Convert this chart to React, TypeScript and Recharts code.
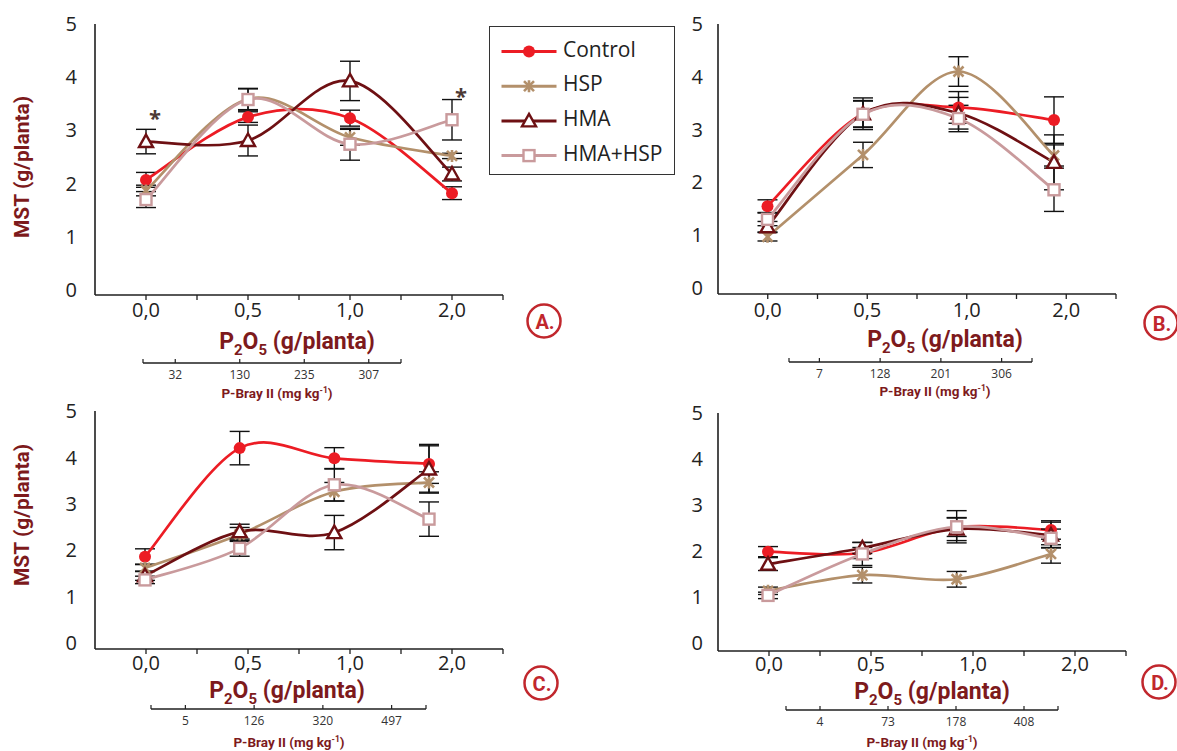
import { ErrorBar, LabelList, Legend, Line, LineChart, XAxis, YAxis } from 'recharts'

const CANVAS_W = 1177
const CANVAS_H = 751
const Y_AXIS_W = 40
const X_AXIS_H = 30

const DOSES = ['0,0', '0,5', '1,0', '2,0']
const Y_TICKS = [0, 1, 2, 3, 4, 5]

// A.
const A_CONTROL = [2.07, 3.25, 3.23, 1.82]
const A_HSP = [1.87, 3.59, 2.87, 2.52]
const A_HMA = [2.79, 2.81, 3.93, 2.18]
const A_HMA_HSP = [1.7, 3.58, 2.74, 3.2]
const A_ERR_CONTROL = [0.14, 0.1, 0.15, 0.12]
const A_ERR_HSP = [0.1, 0.2, 0.15, 0.05]
const A_ERR_HMA = [0.23, 0.29, 0.37, 0.13]
const A_ERR_HMA_HSP = [0.15, 0.2, 0.3, 0.38]
const A_SIG_HMA = ['*', '', '', '']
const A_SIG_HMA_HSP = ['', '', '', '*']
const A_BRAY = ['32', '130', '235', '307']

// B.
const B_CONTROL = [1.55, 3.3, 3.42, 3.18]
const B_HSP = [0.97, 2.52, 4.1, 2.51]
const B_HMA = [1.16, 3.3, 3.31, 2.38]
const B_HMA_HSP = [1.3, 3.29, 3.21, 1.86]
const B_ERR_CONTROL = [0.12, 0.25, 0.3, 0.44]
const B_ERR_HSP = [0.08, 0.24, 0.28, 0.2]
const B_ERR_HMA = [0.1, 0.3, 0.3, 0.52]
const B_ERR_HMA_HSP = [0.12, 0.25, 0.25, 0.41]
const B_BRAY = ['7', '128', '201', '306']

// C.
const C_CONTROL = [1.86, 4.2, 3.98, 3.86]
const C_HSP = [1.62, 2.34, 3.26, 3.46]
const C_HMA = [1.45, 2.4, 2.38, 3.75]
const C_HMA_HSP = [1.36, 2.04, 3.41, 2.67]
const C_ERR_CONTROL = [0.17, 0.36, 0.23, 0.42]
const C_ERR_HSP = [0.08, 0.15, 0.2, 0.23]
const C_ERR_HMA = [0.1, 0.16, 0.37, 0.5]
const C_ERR_HMA_HSP = [0.08, 0.17, 0.35, 0.37]
const C_BRAY = ['5', '126', '320', '497']

// D.
const D_CONTROL = [1.99, 1.96, 2.52, 2.46]
const D_HSP = [1.14, 1.48, 1.39, 1.94]
const D_HMA = [1.72, 2.07, 2.48, 2.35]
const D_HMA_HSP = [1.04, 1.94, 2.53, 2.28]
const D_ERR_CONTROL = [0.11, 0.12, 0.2, 0.2]
const D_ERR_HSP = [0.08, 0.17, 0.17, 0.2]
const D_ERR_HMA = [0.14, 0.12, 0.25, 0.28]
const D_ERR_HMA_HSP = [0.07, 0.25, 0.35, 0.2]
const D_BRAY = ['4', '73', '178', '408']

const SERIES = [
  { key: 'control', name: 'Control', color: '#ec1c24', marker: 'circle' },
  { key: 'hsp', name: 'HSP', color: '#b3906b', marker: 'star' },
  { key: 'hma', name: 'HMA', color: '#6e1013', marker: 'triangle' },
  { key: 'hmaHsp', name: 'HMA+HSP', color: '#c99a9c', marker: 'square' },
]

const TITLE_RED = '#7d1a1c'
const LETTER_RED = '#c1272d'
const INK = '#222'
const AXIS_LINE = { stroke: '#1f1f1f', strokeWidth: 1.6 }

function buildRows(means: number[][], errs: number[][], sigs: string[][] = []) {
  return DOSES.map((dose, i) => {
    const row: Record<string, string | number> = { dose }
    SERIES.forEach((s, j) => {
      row[s.key] = means[j][i]
      row[`${s.key}Err`] = errs[j][i]
      if (sigs[j]) row[`${s.key}Sig`] = sigs[j][i]
    })
    return row
  })
}

const PANELS = [
  {
    id: 'A',
    rows: buildRows(
      [A_CONTROL, A_HSP, A_HMA, A_HMA_HSP],
      [A_ERR_CONTROL, A_ERR_HSP, A_ERR_HMA, A_ERR_HMA_HSP],
      [[], [], A_SIG_HMA, A_SIG_HMA_HSP],
    ),
    plot: { left: 95, right: 503, top: 24, bottom: 295 },
    floor: -0.094,
    pointPad: [51, 51],
    labelGap: 18,
    tickDrop: 22,
    legend: true,
  },
  {
    id: 'B',
    rows: buildRows(
      [B_CONTROL, B_HSP, B_HMA, B_HMA_HSP],
      [B_ERR_CONTROL, B_ERR_HSP, B_ERR_HMA, B_ERR_HMA_HSP],
    ),
    plot: { left: 718, right: 1116, top: 24, bottom: 294 },
    floor: -0.114,
    pointPad: [49.5, 62],
    labelGap: 15,
    tickDrop: 23,
    legend: false,
  },
  {
    id: 'C',
    rows: buildRows(
      [C_CONTROL, C_HSP, C_HMA, C_HMA_HSP],
      [C_ERR_CONTROL, C_ERR_HSP, C_ERR_HMA, C_ERR_HMA_HSP],
    ),
    plot: { left: 95, right: 503, top: 411, bottom: 649 },
    floor: -0.129,
    pointPad: [50, 74],
    labelGap: 18,
    tickDrop: 21,
    legend: false,
  },
  {
    id: 'D',
    rows: buildRows(
      [D_CONTROL, D_HSP, D_HMA, D_HMA_HSP],
      [D_ERR_CONTROL, D_ERR_HSP, D_ERR_HMA, D_ERR_HMA_HSP],
    ),
    plot: { left: 718, right: 1126, top: 413, bottom: 651 },
    floor: -0.167,
    pointPad: [50, 75],
    labelGap: 15,
    tickDrop: 20,
    legend: false,
  },
]

const BRAY_AXES = [
  { labels: A_BRAY, left: 143, right: 401, y: 363 },
  { labels: B_BRAY, left: 789, right: 1032, y: 362 },
  { labels: C_BRAY, left: 151, right: 426, y: 709 },
  { labels: D_BRAY, left: 786, right: 1058, y: 710 },
]

// Excel-style smoothing: Catmull-Rom segments written as cubic beziers.
function excelSmooth(context: any) {
  let pts: [number, number][] = []
  return {
    areaStart() {},
    areaEnd() {},
    lineStart() {
      pts = []
    },
    point(x: number, y: number) {
      pts.push([x, y])
    },
    lineEnd() {
      if (!pts.length) return
      context.moveTo(pts[0][0], pts[0][1])
      for (let i = 0; i < pts.length - 1; i++) {
        const p0 = pts[Math.max(0, i - 1)]
        const p1 = pts[i]
        const p2 = pts[i + 1]
        const p3 = pts[Math.min(pts.length - 1, i + 2)]
        context.bezierCurveTo(
          p1[0] + (p2[0] - p0[0]) / 6,
          p1[1] + (p2[1] - p0[1]) / 6,
          p2[0] - (p3[0] - p1[0]) / 6,
          p2[1] - (p3[1] - p1[1]) / 6,
          p2[0],
          p2[1],
        )
      }
    },
  }
}

function Marker({ kind, x, y, color }: { kind: string; x: number; y: number; color: string }) {
  if (kind === 'circle') return <circle cx={x} cy={y} r={6} fill={color} />
  if (kind === 'star') {
    return (
      <path
        d={`M${x - 5},${y - 5}L${x + 5},${y + 5}M${x - 5},${y + 5}L${x + 5},${y - 5}M${x},${y - 6}L${x},${y + 6}`}
        stroke={color}
        strokeWidth={2.6}
        fill="none"
      />
    )
  }
  if (kind === 'triangle') {
    return (
      <path
        d={`M${x},${y - 7}L${x + 7},${y + 5.5}L${x - 7},${y + 5.5}Z`}
        fill="#fff"
        stroke={color}
        strokeWidth={2.4}
      />
    )
  }
  return <rect x={x - 5.5} y={y - 5.5} width={11} height={11} fill="#fff" stroke={color} strokeWidth={2.4} />
}

function doseTick(axisY: number, band: number, drop: number) {
  return (props: any) => {
    const { x, payload } = props
    return (
      <g>
        <line x1={x} x2={x} y1={axisY} y2={axisY + 5} stroke="#1f1f1f" strokeWidth={1.3} />
        <line x1={x + band / 2} x2={x + band / 2} y1={axisY} y2={axisY + 5} stroke="#1f1f1f" strokeWidth={1.3} />
        <text x={x} y={axisY + drop} textAnchor="middle" fontSize={20} fontFamily="Open Sans" fill={INK}>
          {payload.value}
        </text>
      </g>
    )
  }
}

function brayTick(axisY: number, band: number, count: number) {
  return (props: any) => {
    const { x, payload, index } = props
    const marks = [x]
    if (index === 0) marks.push(x - band / 2)
    if (index === count - 1) marks.push(x + band / 2)
    return (
      <g>
        {marks.map((m, i) => (
          <line key={i} x1={m} x2={m} y1={axisY} y2={axisY - 4} stroke="#1f1f1f" strokeWidth={1.2} />
        ))}
        <text x={x} y={axisY + 16} textAnchor="middle" fontSize={12} fontFamily="Open Sans" fill="#333">
          {payload.value}
        </text>
      </g>
    )
  }
}

function renderSig(props: any) {
  const { x, y, value } = props
  if (!value) return null
  return (
    <text x={x + 9} y={y - 16} textAnchor="middle" fontSize={22} fontWeight={700} fontFamily="Open Sans" fill="#4d3b35">
      {value}
    </text>
  )
}

function LegendBox({ payload }: any) {
  const names = (payload ?? []).map((entry: any) => entry.value)
  // keep the drawing order of the series, not alphabetical
  const items = SERIES.filter((s) => names.includes(s.name))
  return (
    <div style={{ width: 186, height: 149, border: '1.5px solid #333', boxSizing: 'border-box', background: '#fff' }}>
      <svg width={183} height={146}>
        {items.map((s, i) => {
          const y = 24.5 + i * 34.7
          return (
            <g key={s.key}>
              <line x1={11.5} x2={66.5} y1={y} y2={y} stroke={s.color} strokeWidth={3} />
              <Marker kind={s.marker} x={39} y={y} color={s.color} />
              <text x={73} y={y - 3} dominantBaseline="central" fontSize={21} fontFamily="Open Sans" fill={INK}>
                {s.name}
              </text>
            </g>
          )
        })}
      </svg>
    </div>
  )
}

function DosePanel({ panel }: { panel: (typeof PANELS)[number] }) {
  const { plot } = panel
  const band = (plot.right - plot.left) / DOSES.length
  return (
    <div style={{ position: 'absolute', left: 0, top: 0 }}>
      <LineChart
        width={CANVAS_W}
        height={CANVAS_H}
        data={panel.rows}
        margin={{
          top: plot.top,
          left: plot.left - Y_AXIS_W,
          right: CANVAS_W - plot.right,
          bottom: CANVAS_H - plot.bottom - X_AXIS_H,
        }}
      >
        <XAxis
          xAxisId="main"
          dataKey="dose"
          scale="point"
          padding={{ left: band / 2, right: band / 2 }}
          height={X_AXIS_H}
          interval={0}
          tickLine={false}
          axisLine={AXIS_LINE}
          tick={doseTick(plot.bottom, band, panel.tickDrop)}
        />
        <XAxis
          xAxisId="pts"
          dataKey="dose"
          scale="point"
          padding={{ left: panel.pointPad[0], right: panel.pointPad[1] }}
          hide
        />
        <YAxis
          width={Y_AXIS_W}
          domain={[panel.floor, 5]}
          ticks={Y_TICKS}
          allowDataOverflow
          tickLine={false}
          tickSize={0}
          tickMargin={panel.labelGap}
          axisLine={AXIS_LINE}
          tick={{ fontSize: 20, fill: INK, fontFamily: 'Open Sans' }}
        />
        {SERIES.map((s) => (
          <Line
            key={s.key}
            xAxisId="pts"
            dataKey={s.key}
            name={s.name}
            type={excelSmooth as any}
            stroke={s.color}
            strokeWidth={2.7}
            dot={(p: any) => <Marker key={`${s.key}-${p.index}`} kind={s.marker} x={p.cx} y={p.cy} color={s.color} />}
            activeDot={false}
            isAnimationActive={false}
          >
            <ErrorBar
              dataKey={`${s.key}Err`}
              width={10}
              stroke="#111"
              strokeWidth={1.4}
              direction="y"
              isAnimationActive={false}
            />
            <LabelList dataKey={`${s.key}Sig`} content={renderSig} />
          </Line>
        ))}
        {panel.legend && (
          <Legend
            layout="vertical"
            align="center"
            verticalAlign="middle"
            wrapperStyle={{ left: 489, top: 26, width: 186, height: 149 }}
            content={<LegendBox />}
          />
        )}
      </LineChart>
    </div>
  )
}

function BrayAxis({ axis }: { axis: (typeof BRAY_AXES)[number] }) {
  const band = (axis.right - axis.left) / axis.labels.length
  const rows = axis.labels.map((bray) => ({ bray }))
  return (
    <div style={{ position: 'absolute', left: 0, top: 0 }}>
      <LineChart
        width={CANVAS_W}
        height={CANVAS_H}
        data={rows}
        margin={{ top: axis.y - 20, left: axis.left, right: CANVAS_W - axis.right, bottom: CANVAS_H - axis.y - 30 }}
      >
        <XAxis
          dataKey="bray"
          scale="band"
          height={30}
          interval={0}
          tickLine={false}
          axisLine={{ stroke: '#1f1f1f', strokeWidth: 1.4 }}
          tick={brayTick(axis.y, band, axis.labels.length)}
        />
      </LineChart>
    </div>
  )
}

function DoseTitle({ x, y }: { x: number; y: number }) {
  return (
    <text x={x} y={y} textAnchor="middle" fontFamily="Roboto" fontWeight={700} fontSize={23} fill={TITLE_RED}>
      P
      <tspan fontSize={15} dy={6}>2</tspan>
      <tspan dy={-6}>O</tspan>
      <tspan fontSize={15} dy={6}>5</tspan>
      <tspan dy={-6}>{' (g/planta)'}</tspan>
    </text>
  )
}

function BrayTitle({ x, y }: { x: number; y: number }) {
  return (
    <text x={x} y={y} textAnchor="middle" fontFamily="Roboto" fontWeight={700} fontSize={13.5} fill={TITLE_RED}>
      {'P-Bray II (mg kg'}
      <tspan fontSize={8.5} dy={-5}>-1</tspan>
      <tspan dy={5}>)</tspan>
    </text>
  )
}

function PanelLetter({ x, y, letter }: { x: number; y: number; letter: string }) {
  return (
    <g>
      <circle cx={x} cy={y} r={16.5} fill="#fff" stroke={LETTER_RED} strokeWidth={2.5} />
      <text x={x + 1} y={y + 1} textAnchor="middle" dominantBaseline="central" fontFamily="Roboto" fontWeight={700} fontSize={20} fill={LETTER_RED}>
        {letter}.
      </text>
    </g>
  )
}

function MstTitle({ x, y }: { x: number; y: number }) {
  return (
    <text
      x={x}
      y={y}
      transform={`rotate(-90 ${x} ${y})`}
      textAnchor="middle"
      dominantBaseline="central"
      fontFamily="Roboto"
      fontWeight={700}
      fontSize={21}
      fill={TITLE_RED}
    >
      MST (g/planta)
    </text>
  )
}

export default function App() {
  return (
    <div style={{ position: 'absolute', left: 0, top: 0, width: CANVAS_W, height: CANVAS_H, background: '#fff', fontFamily: 'Open Sans' }}>
      <svg width={CANVAS_W} height={CANVAS_H} style={{ position: 'absolute', left: 0, top: 0 }}>
        <MstTitle x={22} y={167} />
        <MstTitle x={22} y={515} />
        <DoseTitle x={297} y={349} />
        <DoseTitle x={945} y={347} />
        <DoseTitle x={287} y={698} />
        <DoseTitle x={932} y={699} />
        <BrayTitle x={277} y={398} />
        <BrayTitle x={935} y={396} />
        <BrayTitle x={289} y={747} />
        <BrayTitle x={922} y={747} />
        <PanelLetter x={544} y={321} letter="A" />
        <PanelLetter x={1161} y={323} letter="B" />
        <PanelLetter x={541} y={683} letter="C" />
        <PanelLetter x={1159} y={682} letter="D" />
      </svg>
      {BRAY_AXES.map((axis, i) => (
        <BrayAxis key={i} axis={axis} />
      ))}
      {PANELS.map((panel) => (
        <DosePanel key={panel.id} panel={panel} />
      ))}
    </div>
  )
}
